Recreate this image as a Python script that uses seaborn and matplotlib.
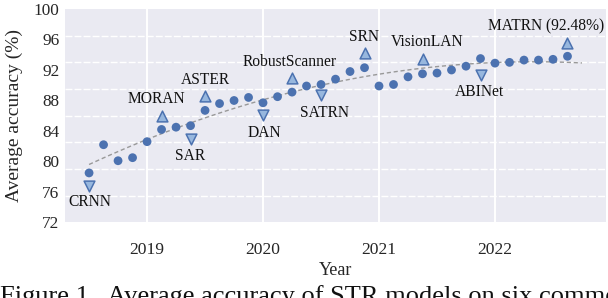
import numpy as np
import pandas as pd
import matplotlib
matplotlib.use("Agg")
import matplotlib.pyplot as plt
import seaborn as sns

# Datos: precision promedio (%) por fecha de publicacion
fecha = [2018.500, 2018.625, 2018.750, 2018.875, 2019.000, 2019.125, 2019.250, 2019.375,
         2019.500, 2019.625, 2019.750, 2019.875, 2020.000, 2020.125, 2020.250, 2020.375,
         2020.500, 2020.625, 2020.750, 2020.875, 2021.000, 2021.125, 2021.250, 2021.375,
         2021.500, 2021.625, 2021.750, 2021.875, 2022.000, 2022.125, 2022.250, 2022.375,
         2022.500, 2022.625]
precision = [78.5, 82.2, 80.1, 80.5, 82.6, 84.2, 84.5, 84.7,
             86.7, 87.6, 88.0, 88.4, 87.7, 88.5, 89.1, 89.9,
             90.1, 90.8, 91.8, 92.3, 89.9, 90.1, 91.1, 91.5,
             91.6, 92.0, 92.5, 93.5, 92.9, 93.0, 93.3, 93.3,
             93.4, 93.8]

# Modelos destacados (triangulos)
modelos = ["CRNN", "MORAN", "SAR", "ASTER", "DAN", "RobustScanner", "SATRN",
           "SRN", "VisionLAN", "ABINet", "MATRN (92.48%)"]
modelo_fecha = [2018.500, 2019.125, 2019.375, 2019.500, 2020.000, 2020.250, 2020.500,
                2020.875, 2021.375, 2021.875, 2022.625]
modelo_valor = [76.8, 86.0, 82.9, 88.6, 86.1, 91.0, 88.7, 94.25, 93.4, 91.3, 95.5]
modelo_dir = ["v", "^", "v", "^", "v", "^", "v", "^", "^", "v", "^"]

anios = [2019, 2020, 2021, 2022]
yticks = [72, 76, 80, 84, 88, 92, 96, 100]

df = pd.DataFrame({"fecha": fecha, "precision": precision})
dm = pd.DataFrame({"fecha": modelo_fecha, "valor": modelo_valor,
                   "modelo": modelos, "dir": modelo_dir})

sns.set_theme(style="darkgrid")
plt.rcParams["font.family"] = ["Liberation Serif", "DejaVu Serif"]

fig = plt.figure(figsize=(6.08, 2.98), dpi=100)
ax = fig.add_axes([0.107, 0.2534, 0.8897, 0.7164])

# linea de tendencia (ajuste cuadratico)
coef = np.polyfit(df["fecha"], df["precision"], 2)
xs = np.linspace(2018.5, 2022.75, 100)
ax.plot(xs, np.polyval(coef, xs), color="#999999", lw=1.0, ls=(0, (3, 2)), zorder=2)

sns.scatterplot(data=df, x="fecha", y="precision", color="#4C72B0", s=40,
                edgecolor="none", ax=ax, zorder=3)
for m in ["^", "v"]:
    sub = dm[dm["dir"] == m]
    sns.scatterplot(data=sub, x="fecha", y="valor", marker=m, s=60,
                    color="#97b7de", edgecolor="#4C72B0", linewidth=1.1,
                    ax=ax, zorder=3)

# desplazamientos de las etiquetas (pixeles)
desp = {"CRNN": (1, -16), "MORAN": (-5, 17), "SAR": (0, -17), "ASTER": (0, 16),
        "DAN": (1, -18), "RobustScanner": (-2, 16), "SATRN": (3, -18),
        "SRN": (-1, 16), "VisionLAN": (5, 17), "ABINet": (-1, -17),
        "MATRN (92.48%)": (-21, 17)}
for _, r in dm.iterrows():
    dx, dy = desp[r["modelo"]]
    ax.annotate(r["modelo"], (r["fecha"], r["valor"]), xytext=(dx * 0.72, dy * 0.72),
                textcoords="offset points", ha="center", va="center",
                fontsize=11.2, color="#111111")

ax.set_xlim(2018.293, 2022.957)
ax.set_ylim(72, 100)
ax.set_xticks(anios)
ax.set_xticklabels([str(a) for a in anios])
ax.set_yticks(yticks)
ax.set_yticks(np.arange(72, 100.01, 3.5), minor=True)
ax.tick_params(axis="x", pad=14, labelsize=12.6, length=0)
ax.tick_params(axis="y", pad=4, labelsize=12.4, length=0, which="both")
ax.grid(False)
ax.xaxis.grid(True, color="white", lw=1.4, ls="-")
ax.yaxis.grid(True, which="minor", color="white", lw=1.0, ls=(0, (5, 1.5)))
for s in ax.spines.values():
    s.set_visible(False)

ax.set_xlabel("Year", fontsize=13, labelpad=3)
ax.set_ylabel("Average accuracy (%)", fontsize=14, labelpad=8)

fig.text(0.0, 0.045, "Figure 1.  Average accuracy of STR models on six common benchmarks",
         fontsize=19, va="top", ha="left", color="#111111")

plt.savefig("out.png", dpi=100)
